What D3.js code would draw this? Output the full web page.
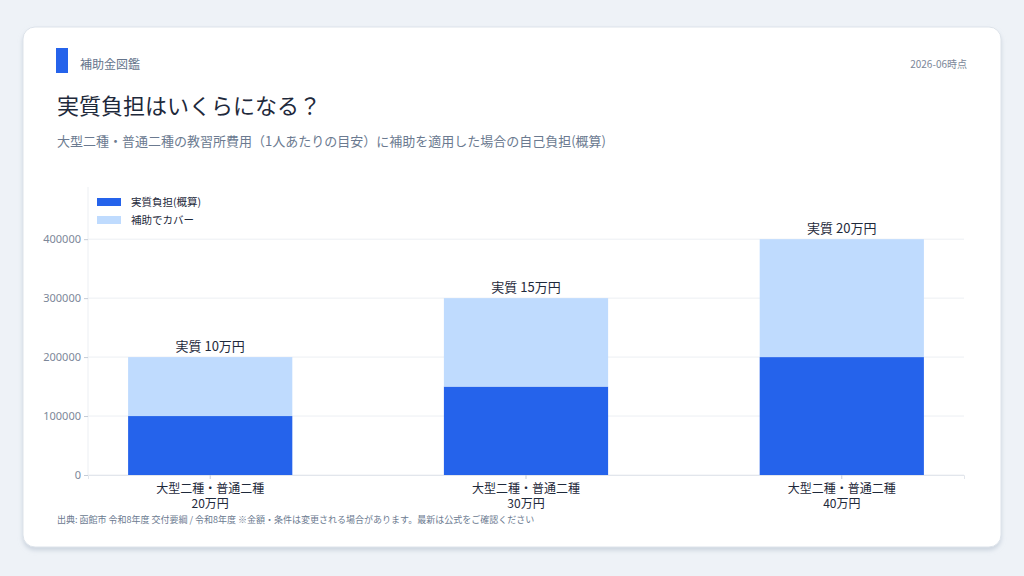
<!DOCTYPE html>
<html><head><meta charset="utf-8">
<script src="https://cdn.jsdelivr.net/npm/d3@7"></script>
<style>
body{margin:0;background:#eef2f7;font-family:"Noto Sans CJK JP","Noto Sans",sans-serif;}
</style></head><body>
<svg id="c" width="1024" height="576"></svg>
<script>
const categories=["大型二種・普通二種\n20万円","大型二種・普通二種\n30万円","大型二種・普通二種\n40万円"];
const burden=[100000,150000,200000];
const covered=[100000,150000,200000];
const labels=["実質 10万円","実質 15万円","実質 20万円"];
const yTicks=[0,100000,200000,300000,400000];
const svg=d3.select("#c");
const defs=svg.append("defs");
const f=defs.append("filter").attr("id","sh").attr("x","-5%").attr("y","-5%").attr("width","110%").attr("height","115%");
f.append("feDropShadow").attr("dx",0).attr("dy",3).attr("stdDeviation",2).attr("flood-color","#b8c2d0").attr("flood-opacity",0.6);
svg.append("rect").attr("x",23).attr("y",27).attr("width",978).attr("height",520).attr("rx",12).attr("fill","#fff").attr("stroke","#dde3ea").attr("filter","url(#sh)");
svg.append("rect").attr("x",56).attr("y",48).attr("width",12).attr("height",25).attr("fill","#2563eb");
svg.append("text").attr("x",80).attr("y",69).attr("font-size",12).attr("fill","#64748b").text("補助金図鑑");
svg.append("text").attr("x",967).attr("y",68).attr("text-anchor","end").attr("font-size",10).attr("fill","#7c8799").text("2026-06時点");
svg.append("text").attr("x",57).attr("y",114).attr("font-size",22).attr("fill","#1e293b").text("実質負担はいくらになる？");
svg.append("text").attr("x",57).attr("y",146).attr("font-size",13).attr("fill","#6b7a90").text("大型二種・普通二種の教習所費用（1人あたりの目安）に補助を適用した場合の自己負担(概算)");
const L=88,R=964,T=192,B=475;
const x=d3.scaleBand().domain(categories).range([L,R]).paddingInner(0.48).paddingOuter(0.127);
const y=d3.scaleLinear().domain([0,480000]).range([B,T]);
const g=svg.append("g");
g.selectAll(".gr").data(yTicks).join("line").attr("x1",L).attr("x2",R).attr("y1",d=>y(d)).attr("y2",d=>y(d)).attr("stroke","#eceff3");
g.append("line").attr("x1",L).attr("x2",L).attr("y1",187).attr("y2",B).attr("stroke","#eceff3");
const ya=svg.append("g").attr("transform",`translate(${L},0)`).call(d3.axisLeft(y).tickValues(yTicks).tickFormat(d3.format("d")).tickSize(4));
ya.select(".domain").remove();
ya.selectAll("line").attr("stroke","#c5ccd6");
ya.selectAll("text").attr("fill","#7c8799").attr("font-size",11).attr("font-family","Noto Sans, sans-serif");
svg.selectAll(".b1").data(categories).join("rect").attr("x",d=>x(d)).attr("width",x.bandwidth()).attr("y",(d,i)=>y(burden[i])).attr("height",(d,i)=>B-y(burden[i])).attr("fill","#2563eb");
svg.selectAll(".b2").data(categories).join("rect").attr("x",d=>x(d)).attr("width",x.bandwidth()).attr("y",(d,i)=>y(burden[i]+covered[i])).attr("height",(d,i)=>y(burden[i])-y(burden[i]+covered[i])).attr("fill","#bfdbfe");
svg.selectAll(".lb").data(categories).join("text").attr("x",d=>x(d)+x.bandwidth()/2).attr("y",(d,i)=>y(burden[i]+covered[i])-6).attr("text-anchor","middle").attr("font-size",13).attr("fill","#1e293b").text((d,i)=>labels[i]);
const xa=svg.append("g").attr("transform",`translate(0,${B})`).call(d3.axisBottom(x).tickSize(4).tickFormat(""));
xa.select(".domain").attr("stroke","#e2e6ec");
xa.selectAll("line").attr("stroke","#c5ccd6");
categories.forEach(c=>{
  const t=svg.append("text").attr("x",x(c)+x.bandwidth()/2).attr("y",B+18).attr("text-anchor","middle").attr("font-size",12).attr("fill","#1e293b");
  c.split("\n").forEach((s,k)=>t.append("tspan").attr("x",x(c)+x.bandwidth()/2).attr("dy",k?15:0).text(s));
});
const leg=[["実質負担(概算)","#2563eb"],["補助でカバー","#bfdbfe"]];
leg.forEach((l,i)=>{
  svg.append("rect").attr("x",97).attr("y",198+i*18).attr("width",24).attr("height",8).attr("fill",l[1]);
  svg.append("text").attr("x",131).attr("y",206+i*18).attr("font-size",10.5).attr("fill","#1e293b").text(l[0]);
});
svg.append("text").attr("x",57).attr("y",523).attr("font-size",9).attr("fill","#6b7a90").text("出典: 函館市 令和8年度 交付要綱 / 令和8年度 ※金額・条件は変更される場合があります。最新は公式をご確認ください");
</script></body></html>
